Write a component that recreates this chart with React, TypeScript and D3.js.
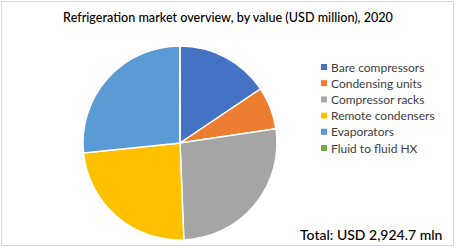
import React from "react";
import * as d3 from "d3";

const categories = ["Bare compressors", "Condensing units", "Compressor racks", "Remote condensers", "Evaporators", "Fluid to fluid HX"];
const values = [456, 207, 781, 702, 778, 0.7];
const colors = ["#4472C4", "#ED7D31", "#A5A5A5", "#FFC000", "#5B9BD5", "#70AD47"];
const title = "Refrigeration market overview, by value (USD million), 2020";
const totalLabel = "Total: USD 2,924.7 mln";

const W = 456, H = 248;

export default function App() {
  const cx = 180, cy = 143, r = 97;
  const pie = d3.pie<number>().sort(null).value((d) => d)(values);
  const arc = d3.arc<d3.PieArcDatum<number>>().innerRadius(0).outerRadius(r);
  const font = "Lato, 'Open Sans', sans-serif";
  return (
    <svg width={W} height={H} style={{ position: "absolute", left: 0, top: 0 }} fontFamily={font}>
      <rect x={0} y={0} width={W} height={H} fill="#fff" />
      <rect x={1.5} y={1.5} width={452} height={244} fill="none" stroke="#d9d9d9" strokeWidth={1} />
      <text x={228} y={22} textAnchor="middle" fontSize={12.6} fill="#000" fontWeight={500}>{title}</text>
      <g transform={`translate(${cx},${cy})`}>
        {pie.map((p, i) => (
          <path key={i} d={arc(p) || ""} fill={colors[i]} stroke="#fff" strokeWidth={1.5} />
        ))}
      </g>
      <g>
        {categories.map((c, i) => {
          const y = 67 + i * 16.2;
          return (
            <g key={c}>
              <rect x={321} y={y - 3} width={6} height={6} fill={colors[i]} />
              <text x={331} y={y + 4.5} fontSize={12} fill="#404040">{c}</text>
            </g>
          );
        })}
      </g>
      <text x={300} y={240} fontSize={14} fill="#000" fontWeight={500}>{totalLabel}</text>
    </svg>
  );
}
